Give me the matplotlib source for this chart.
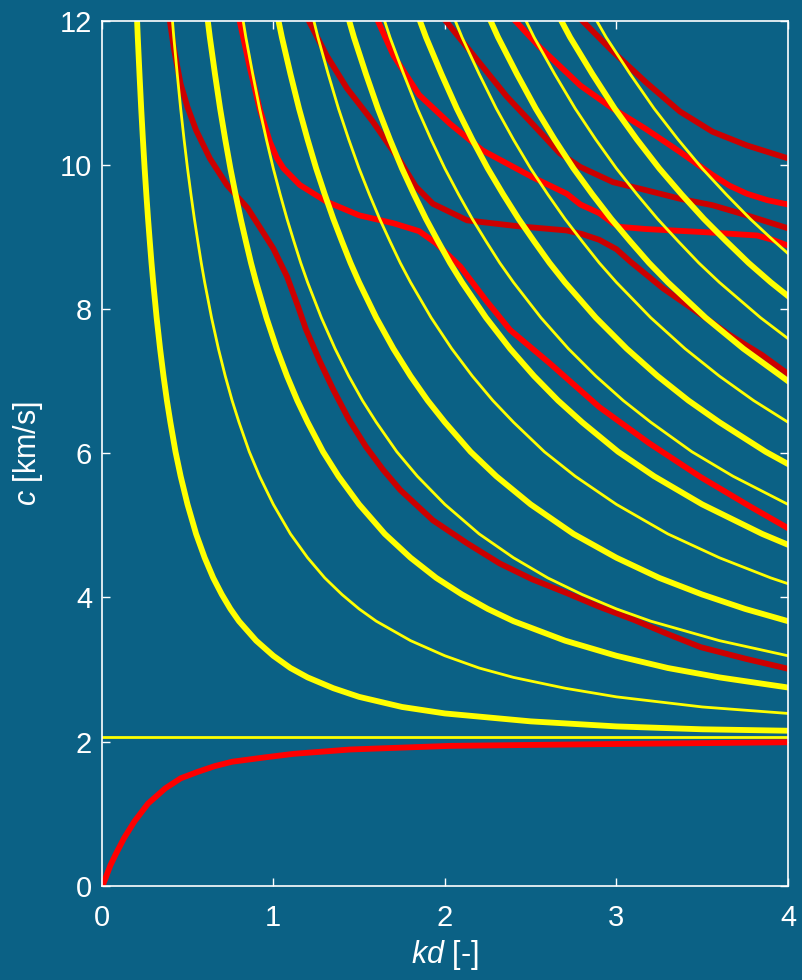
import matplotlib
matplotlib.use('Agg')
import matplotlib.pyplot as plt

# colours
bg = '#0b6185'
yellow = '#ffff00'
red = '#ff0000'
darkred = '#cc0000'

# ---- SH modes (yellow), kd [-] vs c [km/s] ----
sh0_kd = [0.0, 4.0]
sh0_c = [2.06, 2.06]

sh1_kd = [0.20, 0.21, 0.22, 0.23, 0.24, 0.25, 0.26, 0.27, 0.28, 0.29, 0.30, 0.32, 0.34, 0.36, 0.38, 0.40, 0.43, 0.46, 0.50,
          0.55, 0.60, 0.65, 0.70, 0.75, 0.80, 0.90, 1.00, 1.10, 1.20, 1.35, 1.50, 1.75, 2.00, 2.50, 3.00, 3.50, 4.00]
sh1_c = [12.35, 11.77, 11.26, 10.78, 10.35, 9.95, 9.59, 9.25, 8.94, 8.64, 8.37, 7.88, 7.45, 7.07, 6.73, 6.43, 6.02, 5.68, 5.29,
         4.88, 4.55, 4.27, 4.04, 3.84, 3.67, 3.40, 3.19, 3.02, 2.89, 2.74, 2.62, 2.48, 2.39, 2.28, 2.21, 2.17, 2.15]

sh2_kd = [0.40, 0.42, 0.44, 0.46, 0.48, 0.50, 0.52, 0.54, 0.56, 0.58, 0.60, 0.64, 0.68, 0.72, 0.76, 0.80, 0.86, 0.92, 1.00,
          1.10, 1.20, 1.30, 1.40, 1.50, 1.60, 1.80, 2.00, 2.20, 2.40, 2.70, 3.00, 3.50, 4.00]
sh2_c = [12.35, 11.77, 11.26, 10.78, 10.35, 9.95, 9.59, 9.25, 8.94, 8.64, 8.37, 7.88, 7.45, 7.07, 6.73, 6.43, 6.02, 5.68, 5.29,
         4.88, 4.55, 4.27, 4.04, 3.84, 3.67, 3.40, 3.19, 3.02, 2.89, 2.74, 2.62, 2.48, 2.39]

sh3_kd = [0.60, 0.63, 0.66, 0.69, 0.72, 0.75, 0.78, 0.81, 0.84, 0.87, 0.90, 0.96, 1.02, 1.08, 1.14, 1.20, 1.29, 1.38, 1.50,
          1.65, 1.80, 1.95, 2.10, 2.25, 2.40, 2.70, 3.00, 3.30, 3.60, 4.00]
sh3_c = [12.35, 11.77, 11.26, 10.78, 10.35, 9.95, 9.59, 9.25, 8.94, 8.64, 8.37, 7.88, 7.45, 7.07, 6.73, 6.43, 6.02, 5.68, 5.29,
         4.88, 4.55, 4.27, 4.04, 3.84, 3.67, 3.40, 3.19, 3.02, 2.89, 2.75]

sh4_kd = [0.80, 0.84, 0.88, 0.92, 0.96, 1.00, 1.04, 1.08, 1.12, 1.16, 1.20, 1.28, 1.36, 1.44, 1.52, 1.60, 1.72, 1.84, 2.00,
          2.20, 2.40, 2.60, 2.80, 3.00, 3.20, 3.60, 4.00]
sh4_c = [12.35, 11.77, 11.26, 10.78, 10.35, 9.95, 9.59, 9.25, 8.94, 8.64, 8.37, 7.88, 7.45, 7.07, 6.73, 6.43, 6.02, 5.68, 5.29,
         4.88, 4.55, 4.27, 4.04, 3.84, 3.67, 3.40, 3.19]

sh5_kd = [1.00, 1.05, 1.10, 1.15, 1.20, 1.25, 1.30, 1.35, 1.40, 1.45, 1.50, 1.60, 1.70, 1.80, 1.90, 2.00, 2.15, 2.30, 2.50,
          2.75, 3.00, 3.25, 3.50, 3.75, 4.00]
sh5_c = [12.35, 11.77, 11.26, 10.78, 10.35, 9.95, 9.59, 9.25, 8.94, 8.64, 8.37, 7.88, 7.45, 7.07, 6.73, 6.43, 6.02, 5.68, 5.29,
         4.88, 4.55, 4.27, 4.04, 3.84, 3.67]

sh6_kd = [1.20, 1.26, 1.32, 1.38, 1.44, 1.50, 1.56, 1.62, 1.68, 1.74, 1.80, 1.92, 2.04, 2.16, 2.28, 2.40, 2.58, 2.76, 3.00,
          3.30, 3.60, 3.90, 4.00]
sh6_c = [12.35, 11.77, 11.26, 10.78, 10.35, 9.95, 9.59, 9.25, 8.94, 8.64, 8.37, 7.88, 7.45, 7.07, 6.73, 6.43, 6.02, 5.68, 5.29,
         4.88, 4.55, 4.27, 4.19]

sh7_kd = [1.40, 1.47, 1.54, 1.61, 1.68, 1.75, 1.82, 1.89, 1.96, 2.03, 2.10, 2.24, 2.38, 2.52, 2.66, 2.80, 3.01, 3.22, 3.50,
          3.85, 4.00]
sh7_c = [12.35, 11.77, 11.26, 10.78, 10.35, 9.95, 9.59, 9.25, 8.94, 8.64, 8.37, 7.88, 7.45, 7.07, 6.73, 6.43, 6.02, 5.68, 5.29,
         4.88, 4.73]

sh8_kd = [1.60, 1.68, 1.76, 1.84, 1.92, 2.00, 2.08, 2.16, 2.24, 2.32, 2.40, 2.56, 2.72, 2.88, 3.04, 3.20, 3.44, 3.68, 4.00]
sh8_c = [12.35, 11.77, 11.26, 10.78, 10.35, 9.95, 9.59, 9.25, 8.94, 8.64, 8.37, 7.88, 7.45, 7.07, 6.73, 6.43, 6.02, 5.68, 5.29]

sh9_kd = [1.80, 1.89, 1.98, 2.07, 2.16, 2.25, 2.34, 2.43, 2.52, 2.61, 2.70, 2.88, 3.06, 3.24, 3.42, 3.60, 3.87, 4.00]
sh9_c = [12.35, 11.77, 11.26, 10.78, 10.35, 9.95, 9.59, 9.25, 8.94, 8.64, 8.37, 7.88, 7.45, 7.07, 6.73, 6.43, 6.02, 5.85]

sh10_kd = [2.00, 2.10, 2.20, 2.30, 2.40, 2.50, 2.60, 2.70, 2.80, 2.90, 3.00, 3.20, 3.40, 3.60, 3.80, 4.00]
sh10_c = [12.35, 11.77, 11.26, 10.78, 10.35, 9.95, 9.59, 9.25, 8.94, 8.64, 8.37, 7.88, 7.45, 7.07, 6.73, 6.43]

sh11_kd = [2.20, 2.31, 2.42, 2.53, 2.64, 2.75, 2.86, 2.97, 3.08, 3.19, 3.30, 3.52, 3.74, 3.96, 4.00]
sh11_c = [12.35, 11.77, 11.26, 10.78, 10.35, 9.95, 9.59, 9.25, 8.94, 8.64, 8.37, 7.88, 7.45, 7.07, 7.00]

sh12_kd = [2.40, 2.52, 2.64, 2.76, 2.88, 3.00, 3.12, 3.24, 3.36, 3.48, 3.60, 3.84, 4.00]
sh12_c = [12.35, 11.77, 11.26, 10.78, 10.35, 9.95, 9.59, 9.25, 8.94, 8.64, 8.37, 7.88, 7.59]

sh13_kd = [2.60, 2.73, 2.86, 2.99, 3.12, 3.25, 3.38, 3.51, 3.64, 3.77, 3.90, 4.00]
sh13_c = [12.35, 11.77, 11.26, 10.78, 10.35, 9.95, 9.59, 9.25, 8.94, 8.64, 8.37, 8.18]

sh14_kd = [2.80, 2.94, 3.08, 3.22, 3.36, 3.50, 3.64, 3.78, 3.92, 4.00]
sh14_c = [12.35, 11.77, 11.26, 10.78, 10.35, 9.95, 9.59, 9.25, 8.94, 8.77]

# ---- Lamb modes: symmetric (red) / antisymmetric (dark red) ----
r0_kd = [0.01, 0.05, 0.08, 0.13, 0.19, 0.27, 0.37, 0.46, 0.56, 0.66, 0.76, 0.95, 1.12, 1.45, 2.03, 2.94, 4.00]
r0_c = [0.03, 0.28, 0.43, 0.66, 0.89, 1.14, 1.35, 1.49, 1.58, 1.66, 1.72, 1.78, 1.83, 1.89, 1.94, 1.965, 1.99]

d1_kd = [0.385, 0.42, 0.46, 0.50, 0.55, 0.63, 0.73, 0.85, 0.92, 1.00, 1.08, 1.145, 1.19, 1.27, 1.35, 1.44, 1.54, 1.64,
         1.74, 1.93, 2.13, 2.32, 2.51, 2.71, 2.90, 3.10, 3.29, 3.49, 3.75, 4.00]
d1_c = [12.2, 11.62, 11.12, 10.80, 10.48, 10.09, 9.72, 9.40, 9.14, 8.84, 8.45, 8.03, 7.72, 7.28, 6.88, 6.47, 6.09, 5.77,
        5.49, 5.07, 4.75, 4.47, 4.25, 4.06, 3.87, 3.69, 3.50, 3.31, 3.15, 3.01]

r2_kd = [0.79, 0.86, 0.92, 0.98, 1.02, 1.06, 1.155, 1.31, 1.50, 1.70, 1.85, 1.95, 2.09, 2.24, 2.38, 2.61, 2.90, 3.19,
         3.49, 3.78, 4.00]
r2_c = [12.15, 11.38, 10.78, 10.32, 10.10, 9.95, 9.72, 9.49, 9.30, 9.19, 9.08, 8.91, 8.59, 8.12, 7.71, 7.25, 6.64, 6.14,
        5.67, 5.26, 4.96]

d3_kd = [1.185, 1.31, 1.43, 1.58, 1.74, 1.83, 1.93, 2.13, 2.42, 2.71, 2.80, 2.90, 3.00, 3.08, 3.27, 3.47, 3.66, 3.85, 4.00]
d3_c = [12.1, 11.52, 11.06, 10.60, 10.05, 9.70, 9.46, 9.23, 9.15, 9.09, 9.04, 8.96, 8.83, 8.66, 8.29, 7.96, 7.64, 7.36, 7.10]

r4_kd = [1.59, 1.70, 1.85, 2.03, 2.22, 2.51, 2.71, 2.79, 2.90, 2.98, 3.02, 3.17, 3.56, 3.82, 3.91, 4.00]
r4_c = [12.1, 11.52, 10.97, 10.57, 10.20, 9.83, 9.60, 9.45, 9.33, 9.19, 9.14, 9.11, 9.06, 9.02, 8.96, 8.88]

d5_kd = [1.97, 2.16, 2.36, 2.51, 2.67, 2.79, 2.98, 3.17, 3.37, 3.56, 3.76, 4.00]
d5_c = [12.1, 11.54, 10.95, 10.57, 10.16, 9.97, 9.76, 9.65, 9.53, 9.44, 9.30, 9.12]

r6_kd = [2.39, 2.55, 2.79, 2.98, 3.17, 3.37, 3.56, 3.66, 3.76, 3.88, 4.00]
r6_c = [12.05, 11.64, 11.10, 10.78, 10.50, 10.18, 9.86, 9.71, 9.60, 9.51, 9.45]

d7_kd = [2.78, 2.98, 3.17, 3.37, 3.56, 3.76, 4.00]
d7_c = [12.05, 11.57, 11.15, 10.74, 10.46, 10.27, 10.09]

xticks_v = [0, 1, 2, 3, 4]
yticks_v = [0, 2, 4, 6, 8, 10, 12]

plt.rcParams['font.family'] = ['Liberation Sans', 'DejaVu Sans']
plt.rcParams['mathtext.fontset'] = 'custom'
plt.rcParams['mathtext.it'] = 'Liberation Sans:italic'
plt.rcParams['mathtext.rm'] = 'Liberation Sans'

fig = plt.figure(figsize=(8.03, 9.80), dpi=100, facecolor=bg)
ax = fig.add_axes([0.1267, 0.0962, 0.8546, 0.8827], facecolor=bg)

# red (Lamb) first, yellow (SH) goes on top
for kd, c in [(r0_kd, r0_c), (r2_kd, r2_c), (r4_kd, r4_c), (r6_kd, r6_c)]:
    ax.plot(kd, c, color=red, lw=4.2, solid_joinstyle='round')
for kd, c in [(d1_kd, d1_c), (d3_kd, d3_c), (d5_kd, d5_c), (d7_kd, d7_c)]:
    ax.plot(kd, c, color=darkred, lw=4.2, solid_joinstyle='round')

thin = [(sh0_kd, sh0_c), (sh2_kd, sh2_c), (sh4_kd, sh4_c), (sh6_kd, sh6_c),
        (sh8_kd, sh8_c), (sh10_kd, sh10_c), (sh12_kd, sh12_c), (sh14_kd, sh14_c)]
thick = [(sh1_kd, sh1_c), (sh3_kd, sh3_c), (sh5_kd, sh5_c), (sh7_kd, sh7_c),
         (sh9_kd, sh9_c), (sh11_kd, sh11_c), (sh13_kd, sh13_c)]
for kd, c in thin:
    ax.plot(kd, c, color=yellow, lw=2, solid_joinstyle='round')
for kd, c in thick:
    ax.plot(kd, c, color=yellow, lw=4.2, solid_joinstyle='round')

ax.set_xlim(0, 4)
ax.set_ylim(0, 12)
ax.set_xticks(xticks_v)
ax.set_yticks(yticks_v)
for s in ax.spines.values():
    s.set_color('white')
    s.set_linewidth(1.2)
ax.tick_params(axis='both', which='both', direction='in', colors='white',
               length=6, width=1, top=True, right=True, labelsize=21)
ax.tick_params(axis='x', pad=13)
ax.tick_params(axis='y', pad=7)

ax.set_xlabel(r'$kd$ [-]', color='white', fontsize=22)
ax.set_ylabel(r'$c$ [km/s]', color='white', fontsize=22)
ax.xaxis.set_label_coords(0.5, -0.0605)
ax.yaxis.set_label_coords(-0.0826, 0.5)

fig.savefig('out.png', dpi=100, facecolor=bg)
